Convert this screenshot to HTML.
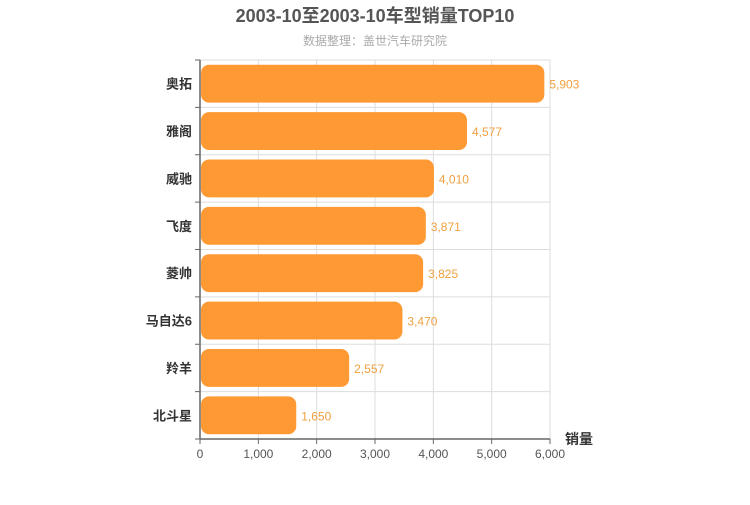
<!DOCTYPE html>
<html><head><meta charset="utf-8"><style>
html,body{margin:0;padding:0;background:#fff;}
svg text{font-family:"Liberation Sans","Noto Sans CJK SC",sans-serif;}
</style></head><body>
<svg id="chart" width="750" height="500">
<text x="375" y="22" text-anchor="middle" font-size="18" font-weight="bold" fill="#555">2003-10至2003-10车型销量TOP10</text>
<text x="375" y="45" text-anchor="middle" font-size="12" fill="#aaa">数据整理：盖世汽车研究院</text>
<g id="grid"></g><g id="bars"></g><g id="axes"></g>
<text x="565" y="444" font-size="14" font-weight="bold" fill="#333">销量</text>
</svg>
<script>
const categories=["奥拓","雅阁","威驰","飞度","菱帅","马自达6","羚羊","北斗星"];
const values=[5903,4577,4010,3871,3825,3470,2557,1650];
const xTicks=[0,1000,2000,3000,4000,5000,6000];
const NS="http://www.w3.org/2000/svg";
const L=200,R=550,T=60,B=439,xMax=6000;
const x=v=>L+(R-L)*v/xMax;
const band=(B-T)/categories.length;
const y=i=>T+band*i;
function mk(tag,attrs,parent,text){const e=document.createElementNS(NS,tag);for(const k in attrs)e.setAttribute(k,attrs[k]);if(text!==undefined)e.textContent=text;parent.appendChild(e);return e;}
const grid=document.getElementById('grid'),bars=document.getElementById('bars'),axes=document.getElementById('axes');
const fmt=v=>v.toLocaleString('en-US');
xTicks.forEach(t=>{
 const g=mk('line',{x1:x(t),x2:x(t),y1:T,y2:B,stroke:'#ddd'},grid);
 
 
 const tk=mk('line',{x1:x(t),x2:x(t),y1:B,y2:B+5,stroke:'#666'},axes);
 
 
 const lb=mk('text',{x:x(t),y:B+19,'text-anchor':'middle','font-size':12,fill:'#555'},axes,fmt(t));
 
 
});
for(let i=0;i<=categories.length;i++){
 const g=mk('line',{x1:L,x2:R,y1:y(i),y2:y(i),stroke:'#ddd'},grid);
 
 
 const tk=mk('line',{x1:L-5,x2:L,y1:y(i),y2:y(i),stroke:'#666'},axes);
 
 
}
categories.forEach((c,i)=>{
 const h=band*0.8, top=y(i)+band*0.1, cy=y(i)+band/2;
 const r=mk('rect',{x:L+1,y:top,width:x(values[i])-L-1,height:h,rx:8,ry:8,fill:'#ff9933'},bars);
 
 
 const v=mk('text',{x:x(values[i])+5,y:cy+5,'font-size':12,fill:'#f0a040'},bars,fmt(values[i]));
 
 
 const lb=mk('text',{x:L-8,y:cy+5,'text-anchor':'end','font-size':13,'font-weight':'bold',fill:'#333'},axes,c);
 
 
});
const ya=mk('line',{x1:L,x2:L,y1:T,y2:B,stroke:'#666','stroke-width':1.5},axes);


const xa=mk('line',{x1:L,x2:R,y1:B,y2:B,stroke:'#666','stroke-width':1.5},axes);


</script>
</body></html>
